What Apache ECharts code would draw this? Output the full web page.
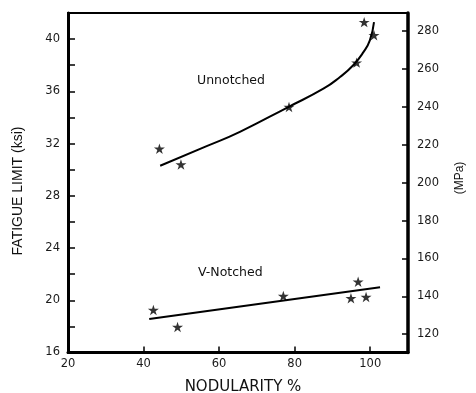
<!DOCTYPE html>
<html>
<head>
<meta charset="utf-8">
<script src="https://cdn.jsdelivr.net/npm/echarts@6/dist/echarts.min.js"></script>
<style>
html,body{margin:0;padding:0;background:#fff;}
#chart{width:476px;height:393px;}
</style>
</head>
<body>
<div id="chart"></div>
<script>
// ---- data ----
const xTicks = [20, 40, 60, 80, 100];          // NODULARITY %
const ksiTicks = [16, 20, 24, 28, 32, 36, 40]; // FATIGUE LIMIT (ksi)
const mpaTicks = [120, 140, 160, 180, 200, 220, 240, 260, 280];
const KSI_TO_MPA = 6.894757;

// measured stars
const unnotchedPts = [[44.2, 31.6], [49.9, 30.4], [78.5, 34.8], [96.4, 38.2], [98.4, 41.3], [101.0, 40.3]];
const vNotchedPts  = [[42.6, 19.25], [49.0, 17.95], [77.0, 20.33], [94.9, 20.15], [96.8, 21.42], [98.9, 20.25]];
// drawn fit curves
const unnotchedCurve = [[44.4, 30.3], [56.7, 31.8], [65.5, 32.9], [78.3, 34.8], [87.6, 36.2], [92.0, 37.1], [95.5, 38.0], [98.2, 39.0], [99.9, 39.9], [101.0, 41.3]];
const vNotchedLine = [[41.5, 18.57], [102.6, 20.99]];

const xMin = 20, xMax = 110;
const yMin = 16, yMax = 42;

const star = 'path://M50,0 L61.2,34.5 L97.6,34.5 L68.2,55.9 L79.4,90.5 L50,69.1 L20.6,90.5 L31.8,55.9 L2.4,34.5 L38.8,34.5 Z';
const tickFont = {fontFamily: 'DejaVu Sans', fontSize: 11.5, color: '#1a1a1a'};

const chart = echarts.init(document.getElementById('chart'), null, {renderer: 'canvas'});
chart.setOption({
  animation: false,
  backgroundColor: '#fff',
  grid: {left: 68, right: 68, top: 13, bottom: 40.5, show: true, borderColor: '#000', borderWidth: 2, backgroundColor: 'transparent'},
  xAxis: {
    type: 'value', min: xMin, max: xMax, interval: xTicks[1] - xTicks[0],
    axisLine: {show: true, lineStyle: {color: '#000', width: 3}},
    axisTick: {show: true, inside: true, length: 6, lineStyle: {color: '#000', width: 1.5}},
    axisLabel: Object.assign({margin: 6, showMaxLabel: false}, tickFont),
    splitLine: {show: false}
  },
  yAxis: [{
    type: 'value', min: yMin, max: yMax, interval: ksiTicks[1] - ksiTicks[0],
    axisLine: {show: true, lineStyle: {color: '#000', width: 3}},
    axisTick: {show: true, inside: true, length: 7, lineStyle: {color: '#000', width: 1.5}},
    minorTick: {show: true, splitNumber: 2, length: 7, lineStyle: {color: '#000', width: 1.5}},
    axisLabel: Object.assign({margin: 8, showMaxLabel: false}, tickFont),
    splitLine: {show: false}
  }, {
    type: 'value', position: 'right', min: yMin * KSI_TO_MPA, max: yMax * KSI_TO_MPA, splitNumber: mpaTicks.length,
    axisLine: {show: true, lineStyle: {color: '#000', width: 3.5}},
    axisTick: {show: true, inside: true, length: 6, lineStyle: {color: '#000', width: 1.5}},
    axisLabel: Object.assign({margin: 9, showMinLabel: false, showMaxLabel: false}, tickFont),
    splitLine: {show: false}
  }],
  series: [
    {type: 'line', data: unnotchedCurve, smooth: 0.5, showSymbol: false, lineStyle: {color: '#000', width: 2}, z: 2},
    {type: 'line', data: vNotchedLine, showSymbol: false, lineStyle: {color: '#000', width: 2}, z: 2},
    {type: 'scatter', data: unnotchedPts, symbol: star, symbolSize: 11, symbolKeepAspect: true, itemStyle: {color: '#000'}, z: 3},
    {type: 'scatter', data: vNotchedPts, symbol: star, symbolSize: 11, symbolKeepAspect: true, itemStyle: {color: '#000'}, z: 3}
  ],
  graphic: [
    {type: 'text', x: 18, y: 191, rotation: Math.PI / 2,
     style: {text: 'FATIGUE LIMIT (ksi)', fontFamily: 'Liberation Sans', fontSize: 14, fill: '#111', textAlign: 'center', textVerticalAlign: 'middle'}},
    {type: 'text', x: 460, y: 178, rotation: Math.PI / 2,
     style: {text: '(MPa)', fontFamily: 'Liberation Sans', fontSize: 12, fill: '#111', textAlign: 'center', textVerticalAlign: 'middle'}},
    {type: 'text', x: 243, y: 387,
     style: {text: 'NODULARITY %', fontFamily: 'DejaVu Sans', fontSize: 15, fill: '#111', textAlign: 'center', textVerticalAlign: 'middle'}},
    {type: 'text', x: 197, y: 80.5,
     style: {text: 'Unnotched', fontFamily: 'DejaVu Sans', fontSize: 12.5, fill: '#111', textAlign: 'left', textVerticalAlign: 'middle'}},
    {type: 'text', x: 198, y: 272.7,
     style: {text: 'V-Notched', fontFamily: 'DejaVu Sans', fontSize: 12.5, fill: '#111', textAlign: 'left', textVerticalAlign: 'middle'}}
  ]
});
</script>
</body>
</html>
